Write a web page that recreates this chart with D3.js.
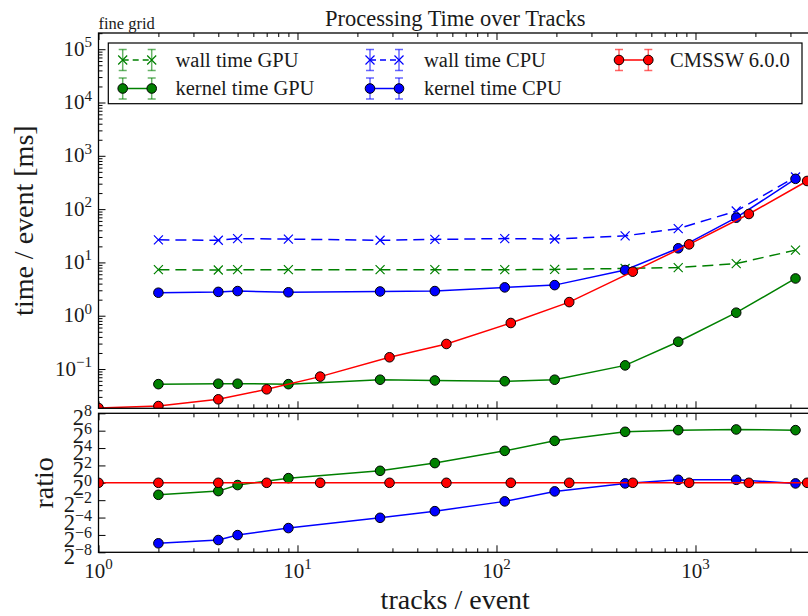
<!DOCTYPE html>
<html>
<head>
<meta charset="utf-8">
<script src="https://cdn.jsdelivr.net/npm/d3@7"></script>
<style>
  body { margin: 0; background: #fff; }
  text { font-family: "Liberation Serif", serif; fill: #1a1a1a; }
</style>
</head>
<body>
<script>
// data
const tracksGpu = [2, 4, 5, 9, 26, 49, 110, 196, 443, 819, 1602, 3181];
const wallGpu   = [7.3, 7.2, 7.3, 7.3, 7.3, 7.3, 7.3, 7.4, 7.7, 8.0, 9.5, 17];
const kernelGpu = [0.052, 0.053, 0.053, 0.052, 0.063, 0.061, 0.059, 0.063, 0.117, 0.325, 1.14, 5.0];
const wallCpu   = [26.5, 26, 28, 27.4, 26, 27, 28, 27.5, 31.5, 43, 92, 400];
const kernelCpu = [2.7, 2.8, 2.9, 2.75, 2.85, 2.9, 3.4, 3.75, 7.2, 18.4, 69, 370];

const tracksCmssw = [1, 2, 4, 7, 13, 29, 56, 118, 232, 484, 929, 1854, 3640];
const cmssw       = [0.0186, 0.0202, 0.027, 0.0416, 0.072, 0.166, 0.295, 0.73, 1.8, 6.7, 21.8, 81, 337];

// ratio panel (CMSSW / kernel time)
const ratioGpu   = [0.384, 0.516, 0.835, 1.45, 2.60, 4.82, 12.8, 28.4, 58.5, 66.7, 70.5, 66.7];
const ratioCpu   = [0.0080, 0.0104, 0.0154, 0.0270, 0.0612, 0.104, 0.227, 0.503, 0.953, 1.27, 1.27, 0.953];
const ratioCmssw = [1, 1, 1, 1, 1, 1, 1, 1, 1, 1, 1, 1, 1];

const xMajor = [1, 10, 100, 1000];
const yMainExp = [-1, 0, 1, 2, 3, 4, 5];
const yRatioExp = [-8, -6, -4, -2, 0, 2, 4, 6, 8];

const legendLabels = ["wall time GPU", "kernel time GPU", "wall time CPU", "kernel time CPU", "CMSSW 6.0.0"];

const green = "#008000", blue = "#0000ff", red = "#ff0000";

const w = 808, h = 616;
const left = 98.5, right = 812;
const mainTop = 33, mainBot = 408.3;
const ratTop = 413.3, ratBot = 552.3;

const svg = d3.select("body").append("svg")
  .attr("width", w).attr("height", h);

const x = d3.scaleLog().domain([1, 3850]).range([left, right]);
const yMain = d3.scaleLog().domain([Math.pow(10, -1.737), Math.pow(10, 5.304)]).range([mainBot, mainTop]);
const yRatio = d3.scaleLog().base(2).domain([1 / 256, 256]).range([ratBot, ratTop]);

const defs = svg.append("defs");
defs.append("clipPath").attr("id", "clipMain").append("rect")
  .attr("x", left).attr("y", mainTop).attr("width", right - left).attr("height", mainBot - mainTop);
defs.append("clipPath").attr("id", "clipRatio").append("rect")
  .attr("x", left).attr("y", ratTop).attr("width", right - left).attr("height", ratBot - ratTop);

// minor tick values
const xMinor = [];
[1, 10, 100, 1000].forEach(d => { for (let k = 2; k <= 9; k++) if (d * k < 3850) xMinor.push(d * k); });
const yMinor = [];
for (let e = -2; e <= 5; e++) for (let k = 2; k <= 9; k++) {
  const v = k * Math.pow(10, e);
  if (v > yMain.domain()[0] && v < yMain.domain()[1]) yMinor.push(v);
}

function tickAxis(axisFn, scale, vals, size, tx, ty) {
  const g = svg.append("g").attr("transform", "translate(" + tx + "," + ty + ")")
    .call(axisFn(scale).tickValues(vals).tickSize(-size).tickFormat(""));
  g.select(".domain").remove();
  g.selectAll("line").attr("stroke", "#000").attr("stroke-width", 1);
}

// ticks, all pointing inward
tickAxis(d3.axisTop, x, xMajor, 7, 0, mainTop);
tickAxis(d3.axisTop, x, xMinor, 4, 0, mainTop);
tickAxis(d3.axisBottom, x, xMajor, 7, 0, mainBot);
tickAxis(d3.axisBottom, x, xMinor, 4, 0, mainBot);
tickAxis(d3.axisTop, x, xMajor, 7, 0, ratTop);
tickAxis(d3.axisTop, x, xMinor, 4, 0, ratTop);
tickAxis(d3.axisBottom, x, xMajor, 7, 0, ratBot);
tickAxis(d3.axisBottom, x, xMinor, 4, 0, ratBot);
tickAxis(d3.axisLeft, yMain, yMainExp.map(e => Math.pow(10, e)), 7, left, 0);
tickAxis(d3.axisLeft, yMain, yMinor, 4, left, 0);
tickAxis(d3.axisLeft, yRatio, yRatioExp.map(e => Math.pow(2, e)), 7, left, 0);

// series
function drawSeries(clip, yScale, xs, ys, color, dash, marker) {
  const g = svg.append("g").attr("clip-path", "url(#" + clip + ")");
  const pts = xs.map((d, i) => [d, ys[i]]);
  g.append("path")
    .attr("d", d3.line().x(d => x(d[0])).y(d => yScale(d[1]))(pts))
    .attr("fill", "none").attr("stroke", color).attr("stroke-width", 1.5)
    .attr("stroke-dasharray", dash || null);
  if (marker === "x") {
    g.selectAll(".m").data(pts).enter().append("path")
      .attr("d", "M-4.5,-4.5L4.5,4.5M-4.5,4.5L4.5,-4.5")
      .attr("transform", d => "translate(" + x(d[0]) + "," + yScale(d[1]) + ")")
      .attr("stroke", color).attr("stroke-width", 1.2).attr("fill", "none");
  } else {
    g.selectAll(".m").data(pts).enter().append("circle")
      .attr("cx", d => x(d[0])).attr("cy", d => yScale(d[1])).attr("r", 4.8)
      .attr("fill", color).attr("stroke", "#000").attr("stroke-width", 1);
  }
}

drawSeries("clipMain", yMain, tracksGpu, wallGpu, green, "11,6", "x");
drawSeries("clipMain", yMain, tracksGpu, kernelGpu, green, null, "o");
drawSeries("clipMain", yMain, tracksGpu, wallCpu, blue, "11,6", "x");
drawSeries("clipMain", yMain, tracksGpu, kernelCpu, blue, null, "o");
drawSeries("clipMain", yMain, tracksCmssw, cmssw, red, null, "o");

drawSeries("clipRatio", yRatio, tracksGpu, ratioGpu, green, null, "o");
drawSeries("clipRatio", yRatio, tracksGpu, ratioCpu, blue, null, "o");
drawSeries("clipRatio", yRatio, tracksCmssw, ratioCmssw, red, null, "o");

// frames
[[mainTop, mainBot], [ratTop, ratBot]].forEach(r => {
  svg.append("rect").attr("x", left).attr("y", r[0])
    .attr("width", right - left).attr("height", r[1] - r[0])
    .attr("fill", "none").attr("stroke", "#000").attr("stroke-width", 1.3);
});

// tick labels
function powLabel(tx, ty, base, exp, anchor, size, supSize, shift) {
  const t = svg.append("text").attr("x", tx).attr("y", ty)
    .attr("text-anchor", anchor).style("font-size", size + "px");
  t.append("tspan").text(base);
  t.append("tspan").attr("dy", -shift).style("font-size", supSize + "px")
    .text(String(exp).replace("-", "\u2212"));
}

yMainExp.forEach(e => powLabel(92, yMain(Math.pow(10, e)) + 6.5, "10", e, "end", 21, 15, 8.5));
xMajor.forEach((v, i) => powLabel(x(v), ratBot + 26, "10", i, "middle", 21, 15, 9.5));
yRatioExp.forEach(e => powLabel(92, yRatio(Math.pow(2, e)) + 12, "2", e, "end", 22.5, 16, 9));

// titles
svg.append("text").attr("x", (left + right) / 2).attr("y", 26)
  .attr("text-anchor", "middle").style("font-size", "22.5px")
  .text("Processing Time over Tracks");
svg.append("text").attr("x", left).attr("y", 29)
  .style("font-size", "16.5px").text("fine grid");
svg.append("text").attr("x", (left + right) / 2).attr("y", 609)
  .attr("text-anchor", "middle").style("font-size", "28px").text("tracks / event");
svg.append("text").attr("transform", "translate(33," + (mainTop + mainBot) / 2 + ") rotate(-90)")
  .attr("text-anchor", "middle").style("font-size", "28px").text("time / event [ms]");
svg.append("text").attr("transform", "translate(52.5," + (ratTop + ratBot) / 2 + ") rotate(-90)")
  .attr("text-anchor", "middle").style("font-size", "28px").text("ratio");

// legend
const lg = svg.append("g");
lg.append("rect").attr("x", 108.3).attr("y", 43).attr("width", 802 - 108.3).attr("height", 103.7 - 43)
  .attr("fill", "#fff").attr("stroke", "#000").attr("stroke-width", 1.2);

const legendItems = [
  { x1: 122.7, x2: 151.7, y: 60, tx: 175.5, color: green, dash: "6,4", marker: "x" },
  { x1: 122.7, x2: 151.7, y: 88.5, tx: 175.5, color: green, dash: null, marker: "o" },
  { x1: 370, x2: 399, y: 60, tx: 424, color: blue, dash: "6,4", marker: "x" },
  { x1: 370, x2: 399, y: 88.5, tx: 424, color: blue, dash: null, marker: "o" },
  { x1: 619, x2: 648.3, y: 60, tx: 670, color: red, dash: null, marker: "o" }
];

legendItems.forEach((it, i) => {
  const g = lg.append("g");
  g.append("line").attr("x1", it.x1).attr("x2", it.x2).attr("y1", it.y).attr("y2", it.y)
    .attr("stroke", it.color).attr("stroke-width", 1.5).attr("stroke-dasharray", it.dash);
  [it.x1, it.x2].forEach(px => {
    const eb = g.append("g").attr("stroke", it.color).attr("stroke-opacity", 0.6).attr("stroke-width", 1.5);
    eb.append("line").attr("x1", px).attr("x2", px).attr("y1", it.y - 10.5).attr("y2", it.y + 10.5);
    eb.append("line").attr("x1", px - 4).attr("x2", px + 4).attr("y1", it.y - 10.5).attr("y2", it.y - 10.5);
    eb.append("line").attr("x1", px - 4).attr("x2", px + 4).attr("y1", it.y + 10.5).attr("y2", it.y + 10.5);
    if (it.marker === "x") {
      g.append("path").attr("d", "M-4.5,-4.5L4.5,4.5M-4.5,4.5L4.5,-4.5")
        .attr("transform", "translate(" + px + "," + it.y + ")")
        .attr("stroke", it.color).attr("stroke-width", 1.2);
    } else {
      g.append("circle").attr("cx", px).attr("cy", it.y).attr("r", 4.8)
        .attr("fill", it.color).attr("stroke", "#000").attr("stroke-width", 1);
    }
  });
  g.append("text").attr("x", it.tx).attr("y", it.y + 6.5)
    .style("font-size", "20.5px").text(legendLabels[i]);
});
</script>
</body>
</html>
